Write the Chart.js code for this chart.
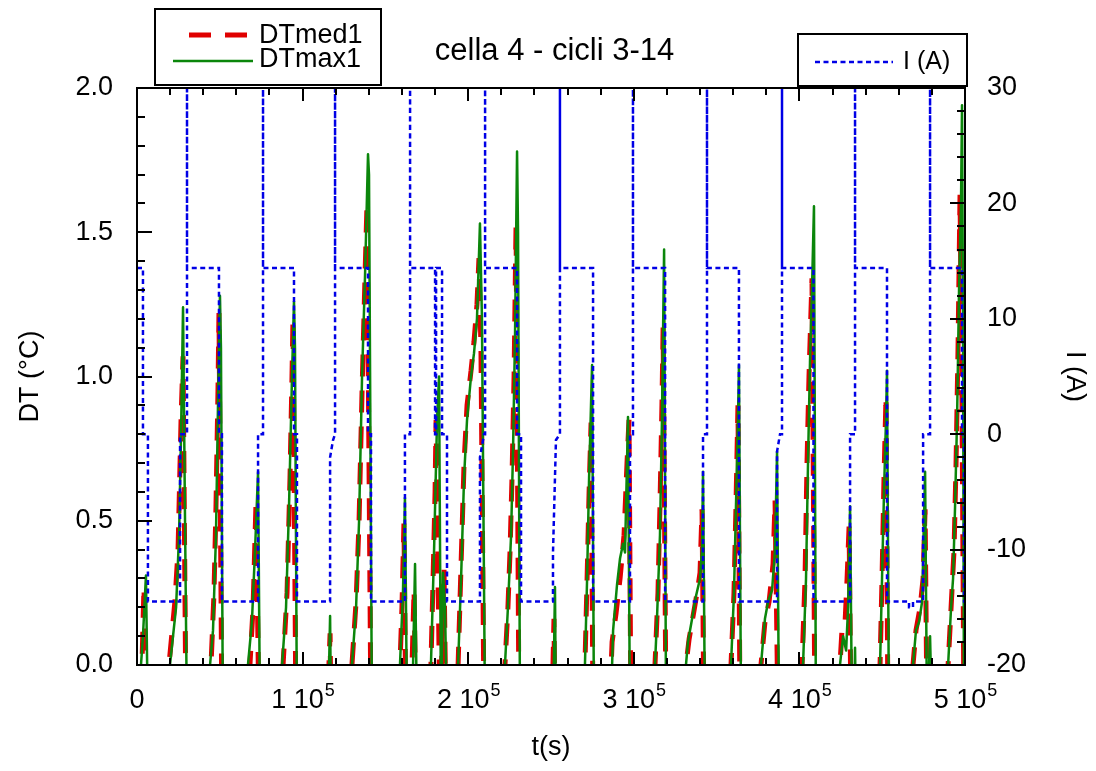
<!DOCTYPE html>
<html>
<head>
<meta charset="utf-8">
<script src="https://cdn.jsdelivr.net/npm/chart.js@4.4.1/dist/chart.umd.min.js"></script>
<style>
  html, body { margin: 0; padding: 0; background: #fff; }
</style>
</head>
<body>
<canvas id="chart" width="1096" height="771"></canvas>
<script>
// t(s) on the x axis, DT in degC (left axis), I in A (right axis)

// DTmed1 (red dashed)
const tMed = [
    0, 1800, 3000, 4200, 6000,
    18100, 19300, 22900, 24800, 26600, 27800, 29600,
    42900, 44700, 46500, 47700, 48900, 49500, 51300,
    66400, 68200, 70100, 71900, 73700,
    86400, 88200, 90600, 92400, 93600, 94200, 96000,
    115300, 115900, 116600, 117200,
    128600, 129800, 132300, 134100, 135900, 137700, 138900, 141300,
    157600, 158800, 160000, 161200, 162400, 165500, 166100, 167300, 168500,
    176300, 177500, 178800, 180000, 180600, 181800, 183000, 185400, 186600,
    192000, 193900, 195700, 197500, 199300, 201700, 203500, 205300, 206500, 207700, 209600,
    221000, 222200, 224000, 225300, 226500, 227700, 228900, 230700,
    250600, 251200, 251800, 252400,
    269300, 270500, 271800, 273000, 274200, 275400,
    285000, 286900, 289300, 291700, 294100, 295900, 297100, 298300,
    311600, 312800, 314600, 315800, 317000, 317700, 319500,
    330300, 331500, 333400, 335800, 338200, 340000, 341200, 342400,
    357500, 358700, 360500, 361700, 362900, 364200,
    375000, 376800, 379200, 381700, 384100, 385300, 387100,
    400400, 401600, 403400, 404600, 405800, 407600, 409400,
    423300, 424500, 425800, 427600, 428800, 430000, 431200,
    447500, 448700, 449900, 451100, 452300, 453500,
    466800, 468600, 470400, 472900, 474700, 475900, 477100,
    488000, 489800, 491600, 493400, 494600, 495800, 497000, 498200, 499400, 500000
];
const dtMed = [
    -0.2, -0.2, 0, 0.27, -0.2,
    -0.2, 0, 0.22, 0.4, 0.85, 1.07, -0.2,
    -0.2, 0, 0.25, 0.55, 0.95, 1.22, -0.2,
    -0.2, 0, 0.2, 0.57, -0.2,
    -0.2, 0, 0.25, 0.65, 1.0, 1.2, -0.2,
    -0.2, 0, 0.11, -0.2,
    -0.2, 0, 0.22, 0.5, 0.95, 1.35, 1.6, -0.2,
    -0.2, 0, 0.2, 0.49, -0.2, -0.2, 0, 0.26, -0.2,
    -0.2, 0, 0.3, 0.6, 0.85, 0.3, -0.2, 0.33, -0.2,
    -0.2, 0, 0.35, 0.7, 0.9, 1.02, 1.12, 1.25, 1.41, 1.1, -0.2,
    -0.2, 0, 0.2, 0.4, 0.66, 1.0, 1.53, -0.2,
    -0.2, 0, 0.16, -0.2,
    -0.2, 0, 0.3, 0.6, 0.84, -0.2,
    -0.2, 0.08, 0.18, 0.3, 0.45, 0.7, 0.85, -0.2,
    -0.2, 0, 0.25, 0.55, 0.9, 1.17, -0.2,
    -0.2, 0, 0.09, 0.17, 0.25, 0.32, 0.54, -0.2,
    -0.2, 0, 0.25, 0.55, 0.9, -0.2,
    -0.2, 0, 0.15, 0.22, 0.35, 0.57, -0.2,
    -0.2, 0, 0.3, 0.7, 1.0, 1.34, -0.2,
    -0.2, 0, 0.13, 0.15, 0.3, 0.48, -0.2,
    -0.2, 0, 0.3, 0.65, 0.93, -0.2,
    -0.2, 0, 0.12, 0.2, 0.3, 0.54, -0.2,
    -0.2, 0, 0.2, 0.4, 0.7, 1.1, 1.63, 0.9, -0.2, -0.2
];

// DTmax1 (green)
const tMax = [
    0, 1200, 2400, 3600, 5400, 6600,
    18700, 19900, 23600, 25400, 26600, 27800, 29000, 30200,
    42900, 44100, 45900, 47700, 48900, 50100, 50700, 51900,
    65800, 67000, 69400, 71300, 73100, 74300,
    86400, 87600, 90000, 91800, 93600, 94800, 95400, 96600,
    115300, 116600, 117200,
    128600, 129800, 132300, 134100, 135900, 137700, 139500, 140100, 141900,
    157600, 158800, 160600, 161800, 163100, 166100, 166700, 167900, 169100,
    175700, 177500, 179400, 181200, 182400, 183600, 184800, 186000, 187200,
    192000, 193900, 195700, 197500, 199300, 201700, 203500, 205300, 207100, 208300, 210200,
    221000, 222200, 224000, 225900, 227100, 228300, 229500, 230100, 231300,
    251200, 252400, 253000,
    269300, 270500, 271800, 273000, 274800, 276000,
    285000, 286900, 287500, 289900, 291700, 293500, 294700, 296500, 297700,
    311600, 312800, 314000, 315800, 317000, 318300, 319500,
    330300, 331500, 332700, 335200, 337600, 340000, 341200, 341800, 343000,
    357500, 358700, 360500, 361700, 362900, 363500, 364800,
    375000, 376800, 379200, 381100, 383500, 385300, 386500, 387700,
    400400, 402200, 404000, 405200, 406400, 407600, 408800, 410000,
    423300, 424500, 426400, 428200, 429400, 430600, 431800, 433000, 433600, 434200,
    447500, 448700, 449900, 451100, 452300, 452900, 454100,
    466800, 468600, 470400, 472300, 474100, 475900, 477100, 478900, 480100,
    488000, 489800, 491600, 492800, 494000, 495200, 496400, 497600, 498200, 498800, 499400, 500000
];
const dtMax = [
    -0.2, -0.2, 0, 0.1, 0.31, -0.2,
    -0.2, 0, 0.2, 0.45, 0.8, 1.24, 0.5, -0.2,
    -0.2, 0, 0.12, 0.45, 0.9, 1.28, 1.1, -0.2,
    -0.2, 0, 0.15, 0.4, 0.67, -0.2,
    -0.2, 0, 0.2, 0.55, 1.0, 1.26, 1.1, -0.2,
    -0.2, 0.17, -0.2,
    -0.2, 0, 0.2, 0.5, 1.0, 1.35, 1.77, 1.7, -0.2,
    -0.2, 0, 0.25, 0.58, -0.2, -0.2, 0, 0.35, -0.2,
    -0.2, 0, 0.4, 0.85, 1.0, -0.2, 0.32, 0.2, -0.2,
    -0.2, 0, 0.3, 0.65, 0.85, 1.0, 1.08, 1.2, 1.53, 1.2, -0.2,
    -0.2, 0, 0.2, 0.45, 0.75, 1.15, 1.78, 1.5, -0.2,
    -0.2, 0.27, -0.2,
    -0.2, 0, 0.3, 0.65, 1.04, -0.2,
    -0.2, 0, 0.12, 0.28, 0.37, 0.42, 0.39, 0.86, -0.2,
    -0.2, 0, 0.16, 0.45, 0.85, 1.44, -0.2,
    -0.2, 0, 0.08, 0.16, 0.24, 0.3, 0.4, 0.67, -0.2,
    -0.2, 0, 0.25, 0.55, 0.85, 1.04, -0.2,
    -0.2, 0, 0.16, 0.22, 0.26, 0.4, 0.74, -0.2,
    -0.2, 0, 0.3, 0.7, 1.05, 1.3, 1.59, -0.2,
    -0.2, 0, 0.1, 0.05, 0.2, 0.55, -0.2, -0.2, 0.06, -0.2,
    -0.2, 0, 0.3, 0.6, 0.85, 1.02, -0.2,
    -0.2, 0, 0.12, 0.15, 0.22, 0.67, -0.2, 0.1, -0.2,
    -0.2, 0, 0.2, 0.3, 0.55, 0.85, 1.3, 1.6, 1.94, 1.2, -0.2, -0.2
];

// I (A) (blue dotted), charge peaks go off the top of the axis
const tCur = [
    0, 3600, 3600, 6600, 6600, 26000, 26000,
    30200, 30200, 30200, 49500, 49500, 51300, 51300, 73100, 73100,
    76100, 76100, 76100, 94800, 94800, 96600, 96600, 116600, 116600, 118400,
    119600, 119600, 119600, 139500, 139500, 141300, 141300, 161800, 161800,
    164900, 164900, 164900, 180000, 180000, 180600, 180600, 184200, 184200, 187200, 187200, 207100, 207100, 209600,
    210200, 210200, 210200, 229500, 229500, 231900, 231900, 251200, 251200, 253000,
    255400, 255400, 255400, 275400, 275400, 297700, 297700,
    299500, 299500, 299500, 318900, 318900, 341800, 341800,
    344200, 344200, 344200, 363500, 363500, 386500, 386500, 388300,
    389500, 389500, 389500, 408500, 408500, 430600, 430600,
    433600, 433600, 433600, 452900, 452900, 466200, 466200, 468600, 468600, 474700, 474700,
    478900, 478900, 478900, 498200, 498200, 499400, 499400, 500000
];
const iCur = [
    14.4, 14.4, 0, 0, -14.5, -14.5, 0,
    0, 45, 14.4, 14.4, 0, 0, -14.5, -14.5, 0,
    0, 45, 14.4, 14.4, 0, 0, -14.5, -14.5, -2, -0.5,
    0, 45, 14.4, 14.4, 0, 0, -14.5, -14.5, 0,
    0, 45, 14.4, 14.4, 0, 0, 14.4, 14.4, 0, 0, -14.5, -14.5, -2, 0,
    0, 45, 14.4, 14.4, 0, 0, -14.5, -14.5, -10.3, -0.5,
    0, 45, 14.4, 14.4, -14.5, -14.5, 0,
    0, 45, 14.4, 14.4, -14.5, -14.5, 0,
    0, 45, 14.4, 14.4, -14.5, -14.5, -1.5, 0,
    0, 45, 14.4, 14.4, -14.5, -14.5, 0,
    0, 45, 14.4, 14.4, -14.5, -14.5, -15, -15, -14.5, -14.5, 0,
    0, 45, 14.4, 14.4, 0, 0, -14.5, -14.5
];

// x tick labels are written as "n 10^5"
const xTickVals = [0, 100000, 200000, 300000, 400000, 500000];
const xExp = 5;

const FONT = "'Liberation Sans', Arial, Helvetica, sans-serif";

function toPoints(xs, ys) {
    return xs.map((x, i) => ({ x: x, y: ys[i] }));
}

// frame, inward ticks, power-of-ten labels and the two legend boxes
const frameAndLegends = {
    id: 'frameAndLegends',
    afterDraw(chart) {
        const ctx = chart.ctx;
        const a = chart.chartArea;
        const xs = chart.scales.x;
        const yl = chart.scales.y;
        const yr = chart.scales.yI;

        ctx.save();
        ctx.strokeStyle = '#000';
        ctx.lineWidth = 2;
        ctx.beginPath();
        for (let v = 0; v <= 500000; v += 20000) {
            const px = Math.round(xs.getPixelForValue(v));
            const len = v % 100000 === 0 ? 13 : 7;
            ctx.moveTo(px, a.bottom); ctx.lineTo(px, a.bottom - len);
            ctx.moveTo(px, a.top); ctx.lineTo(px, a.top + len);
        }
        for (let k = 0; k <= 20; k++) {
            const py = Math.round(yl.getPixelForValue(k / 10));
            const len = k % 5 === 0 ? 15 : 8;
            ctx.moveTo(a.left, py); ctx.lineTo(a.left + len, py);
        }
        for (let v = -20; v <= 30; v += 2) {
            const py = Math.round(yr.getPixelForValue(v));
            const len = v % 10 === 0 ? 15 : 8;
            ctx.moveTo(a.right, py); ctx.lineTo(a.right - len, py);
        }
        ctx.stroke();
        ctx.strokeRect(a.left, a.top, a.right - a.left, a.bottom - a.top);

        // x labels
        ctx.fillStyle = '#000';
        ctx.textBaseline = 'alphabetic';
        xTickVals.forEach(v => {
            const px = xs.getPixelForValue(v);
            const m = v / Math.pow(10, xExp);
            ctx.font = '27px ' + FONT;
            if (m === 0) {
                ctx.textAlign = 'center';
                ctx.fillText('0', px, 708);
                return;
            }
            const main = m + ' 10';
            const w1 = ctx.measureText(main).width;
            ctx.font = '18px ' + FONT;
            const w2 = ctx.measureText(String(xExp)).width;
            const x0 = px - (w1 + w2) / 2;
            ctx.textAlign = 'left';
            ctx.font = '27px ' + FONT;
            ctx.fillText(main, x0, 708);
            ctx.font = '18px ' + FONT;
            ctx.fillText(String(xExp), x0 + w1 + 1, 696);
        });

        // legends
        const ds = chart.data.datasets;
        const cur = ds[0], dmax = ds[1], dmed = ds[2];
        function sample(d, x1, x2, y) {
            ctx.save();
            ctx.strokeStyle = d.borderColor;
            ctx.lineWidth = d.borderWidth;
            ctx.setLineDash(d.borderDash || []);
            ctx.beginPath();
            ctx.moveTo(x1, y);
            ctx.lineTo(x2, y);
            ctx.stroke();
            ctx.restore();
        }
        ctx.lineWidth = 2;
        ctx.fillStyle = '#fff';
        ctx.fillRect(155, 9, 226, 76);
        ctx.strokeRect(155, 9, 226, 76);
        ctx.fillRect(798, 34, 169, 52);
        ctx.strokeRect(798, 34, 169, 52);

        sample(dmed, 189, 247, 35);
        sample(dmax, 173, 253, 61);
        sample(cur, 815, 893, 62);

        ctx.fillStyle = '#000';
        ctx.textAlign = 'left';
        ctx.font = '27px ' + FONT;
        ctx.fillText(dmed.label, 259, 43);
        ctx.fillText(dmax.label, 259, 67);
        ctx.font = '25px ' + FONT;
        ctx.fillText(cur.label, 903, 69);
        ctx.restore();
    }
};

new Chart(document.getElementById('chart'), {
    type: 'line',
    data: {
        datasets: [
            {
                label: 'I (A)',
                data: toPoints(tCur, iCur),
                yAxisID: 'yI',
                borderColor: '#0000e6',
                borderWidth: 2.5,
                borderDash: [5, 3.5],
                order: 0,
                clip: 0
            },
            {
                label: 'DTmax1',
                data: toPoints(tMax, dtMax),
                yAxisID: 'y',
                borderColor: '#0b860b',
                borderWidth: 2.5,
                borderJoinStyle: 'round',
                order: 1,
                clip: 0
            },
            {
                label: 'DTmed1',
                data: toPoints(tMed, dtMed),
                yAxisID: 'y',
                borderColor: '#e00000',
                borderWidth: 5,
                borderDash: [22, 14],
                borderJoinStyle: 'bevel',
                order: 2,
                clip: 0
            }
        ]
    },
    options: {
        responsive: false,
        animation: false,
        devicePixelRatio: 1,
        layout: { padding: { left: 13, right: 0, top: 0, bottom: 0 } },
        elements: {
            point: { radius: 0 },
            line: { tension: 0, fill: false }
        },
        plugins: {
            legend: { display: false },
            tooltip: { enabled: false },
            title: {
                display: true,
                text: 'cella 4 - cicli 3-14',
                color: '#000',
                font: { family: FONT, size: 31, weight: 'normal', lineHeight: 1 },
                padding: { top: 36, bottom: 21 }
            }
        },
        scales: {
            x: {
                type: 'linear',
                min: 0,
                max: 500000,
                ticks: { stepSize: 100000, display: false },
                grid: { display: false, drawTicks: false },
                border: { display: false },
                title: {
                    display: true,
                    text: 't(s)',
                    color: '#000',
                    font: { family: FONT, size: 27, lineHeight: 1 },
                    padding: { top: 0, bottom: 9.5 }
                },
                afterFit: s => { s.height = 106; }
            },
            y: {
                position: 'left',
                min: 0,
                max: 2,
                ticks: {
                    stepSize: 0.5,
                    callback: v => v.toFixed(1),
                    color: '#000',
                    font: { family: FONT, size: 27 },
                    padding: 24
                },
                grid: { display: false, drawTicks: false },
                border: { display: false },
                title: {
                    display: true,
                    text: 'DT (°C)',
                    color: '#000',
                    font: { family: FONT, size: 27, lineHeight: 1 },
                    padding: { top: 4.5, bottom: 0 }
                },
                afterFit: s => { s.width = 124; }
            },
            yI: {
                position: 'right',
                min: -20,
                max: 30,
                ticks: {
                    stepSize: 10,
                    color: '#000',
                    font: { family: FONT, size: 27 },
                    padding: 22
                },
                grid: { display: false, drawTicks: false },
                border: { display: false },
                title: {
                    display: true,
                    text: 'I (A)',
                    color: '#000',
                    font: { family: FONT, size: 27, lineHeight: 1 },
                    padding: { top: 8.5, bottom: 0 }
                },
                afterFit: s => { s.width = 131; }
            }
        }
    },
    plugins: [frameAndLegends]
});
</script>
</body>
</html>
